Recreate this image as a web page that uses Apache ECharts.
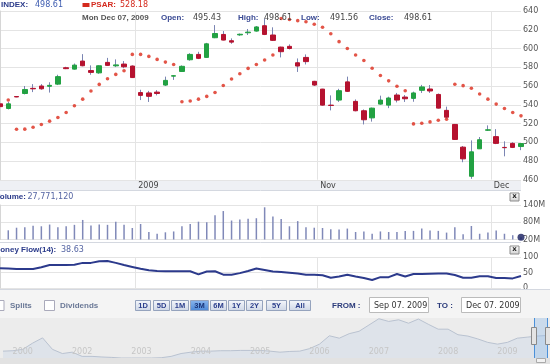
<!DOCTYPE html>
<html><head><meta charset="utf-8">
<script src="https://cdn.jsdelivr.net/npm/echarts@6/dist/echarts.min.js"></script>
<style>html,body{margin:0;padding:0;background:#fff;overflow:hidden}#c{width:550px;height:364px}</style>
</head><body><div id="c"></div>
<script>
const categories = ['2009-09-08','2009-09-09','2009-09-10','2009-09-11','2009-09-14','2009-09-15','2009-09-16','2009-09-17','2009-09-18','2009-09-21','2009-09-22','2009-09-23','2009-09-24','2009-09-25','2009-09-28','2009-09-29','2009-09-30',
'2009-10-01','2009-10-02','2009-10-05','2009-10-06','2009-10-07','2009-10-08','2009-10-09','2009-10-12','2009-10-13','2009-10-14','2009-10-15','2009-10-16','2009-10-19','2009-10-20','2009-10-21','2009-10-22','2009-10-23','2009-10-26','2009-10-27','2009-10-28','2009-10-29','2009-10-30',
'2009-11-02','2009-11-03','2009-11-04','2009-11-05','2009-11-06','2009-11-09','2009-11-10','2009-11-11','2009-11-12','2009-11-13','2009-11-16','2009-11-17','2009-11-18','2009-11-19','2009-11-20','2009-11-23','2009-11-24','2009-11-25','2009-11-27','2009-11-30',
'2009-12-01','2009-12-02','2009-12-03','2009-12-04','2009-12-07'];
const openV  = [541,536,548.8,552,557.5,560,559.7,562,579.5,578,586.6,576.5,574,585.2,581.5,583.4,581.3,553,552.6,553.5,561,570.5,575.5,588,593.7,590.5,611.5,615,608.3,614.5,616.8,618.6,624.3,614.4,601.5,602.3,584.8,590.5,565,556.7,539.6,545,564.4,543.6,533.6,526,540.7,539.6,550.4,548.2,546.8,555.4,556.8,551,534,519,494.8,463.7,493,512.8,506,494.5,498.8,495.43];
const highV  = [543,543,549,560,562,562,564,572,580.5,584,594,582,582,590,588.4,586.6,582,556,554.8,555.6,570,571.5,582,595,596.5,606,625,618.6,610.8,616,620.8,624,632,622.6,602,604.4,589.4,593.7,565.5,557,550,557,570,545.7,535,537,549.7,548.6,552.6,550.4,554,561.2,561,552,538,519.5,496,502,505.6,518,514,501,500,498.61];
const lowV   = [537,535,548,551,553.5,556,553,561,578,577.5,581,572,573,581.5,580.2,579,568.5,545,543,550,560,566.5,575,587,588.7,590,611,608.7,605,613.5,614.4,618,614.3,608,590.5,599,575,583,560,539,534,543,553.6,533,519,522,540,536.4,542.5,543,543.2,552.6,552.6,536,525.3,502.5,478.7,461,493,512,498,485,493.8,491.56];
const closeV = [538,541,548.3,556.3,557,557,560.7,570,578.5,582.3,581.6,574.5,581.6,582,582.5,580.5,569,550,549,552,566,571,581,593.7,589.5,605,616,609,606.8,615.2,617.5,623,615,608.7,596.6,600,581.3,586,561,539.6,539.2,555,554.3,533.6,524,536.4,545,547.2,545,546.4,552.6,559,554.7,536.4,526.7,503,482.3,489.8,502.7,513.3,498.8,494.2,494.5,498.61];
const psar   = ['-',545,513.8,514,516,519,522.5,526.4,531.8,539,546,554.6,561.7,567.7,572.4,576.3,593.7,593.7,591.6,588.4,585.5,583,543.2,544,546,548.9,553,560.6,567.4,573,578.8,583,587.7,593,632,631,629.7,628.6,625.8,622.6,615.8,607.3,600,593,587.2,579,571.2,565.5,559.7,555,519.6,520.3,521.7,523.5,524.6,561.9,560.4,557.6,551.5,546,540.7,536,531.8,528.18];
const volumeM = ['-',52,61,63,68,66,72,63,66,71,88,69,72,71,82,71,60,74,46,40,45,48,66,74,82,80,104,119,86,90,92,94,132,100,91,66,84,63,61,60,56,55,58,46,48,40,48,46,46,50,50,58,51,50,44,63,38,67,40,44,51,40,35,27.77];
const moneyFlow = [64,63,61,61,61,67,74,74,74,75,81,81,86,87,81,74,68,62,57,55,54,54,54,54,44,53,54,43,43,48,55,63,58,53,52,49.5,47,43,43,41,33,37,43,37,32,26,35,35,45,37,45,45,46,47,47,42,33,33,38,38,32,32,31,38.63];
const priceAxis = {min:460, max:640, step:20};
const volumeTicks = [20,80,140];
const moneyTicks = {min:0, max:100, step:50};
const monthLinePos = [16.35, 38.35, 59.35];
const monthLabels = ['2009','Nov','Dec'];
const navValues = [12.3,12.7,14,20,25,14,10,11.3,7.3,7.3,6.7,6.3,5.7,5.7,5.7,5.7,6,7.3,10,11.3,12.3,12.3,12.7,12.7,13,13,13,12.3,11.3,12,12.3,14.7,19,27,24.7,29,31.3,37.3,43.3,40.7,42.3,39,43,38,33.3,33.3,28,26.7,24,20.7,19,20.7,24.7,25.7,26.7,27.3];
const navLabels = navValues.map(()=> '');
const navYears = {2:'2000',8:'2002',14:'2003',20:'2004',26:'2005',32:'2006',38:'2007',45:'2008',51:'2009'};
Object.keys(navYears).forEach(k=>{navLabels[+k]=navYears[k];});

const UP='#22a142', DOWN='#b5122f', WICK='#7b85b3';
const wickData = openV.map((o,i)=>[o, closeV[i], lowV[i], highV[i]]);
const bodyData = openV.map((o,i)=>[o, closeV[i], Math.min(o,closeV[i]), Math.max(o,closeV[i])]);
const lastVolDot = volumeM.map((v,i)=> i===volumeM.length-1 ? v : '-');

const LB='"Liberation Sans"', DJ='"DejaVu Sans"';
function T(text,x,y,o){return {type:'text',x:x,y:y,z:100,silent:true,style:Object.assign({text:text,fill:'#444',font:'8px '+DJ,textVerticalAlign:'middle',verticalAlign:'middle',textAlign:'left'},o||{})};}
function R(x,y,w,h,st,z){return {type:'rect',z:(z==null?50:z),silent:true,shape:{x:x,y:y,width:w,height:h},style:st};}
function L(x1,y1,x2,y2,c,z){return {type:'line',z:(z==null?60:z),silent:true,shape:{x1:x1,y1:y1,x2:x2,y2:y2},style:{stroke:c,lineWidth:1}};}
const btnGrad={type:'linear',x:0,y:0,x2:0,y2:1,colorStops:[{offset:0,color:'#f6f8fc'},{offset:1,color:'#cdd6e6'}]};
const selGrad={type:'linear',x:0,y:0,x2:0,y2:1,colorStops:[{offset:0,color:'#8ab6ee'},{offset:1,color:'#4a86d6'}]};
const xGrad={type:'linear',x:0,y:0,x2:0,y2:1,colorStops:[{offset:0,color:'#ffffff'},{offset:1,color:'#d2d2d2'}]};

const graphics=[];
graphics.push(R(0,180,521,10,{fill:'#eef0f4'},-1));
graphics.push(R(0,290,550,28,{fill:'#f4f4f4'},-1));
graphics.push(R(0,318,550,46,{fill:'#ececec'},-1));
graphics.push(R(0,358,550,6,{fill:'#e2e2e2'},5));
graphics.push(L(0,190.5,521,190.5,'#d4d8e0',5));
graphics.push(L(0,242.5,521,242.5,'#d4d8e0',5));
graphics.push(L(0,289.5,550,289.5,'#d4d8e0',5));
graphics.push(T('INDEX:',1,5,{font:'bold 8px '+LB,fill:'#2a3a8a'}));
graphics.push(T('498.61',35,5,{fill:'#3d5cb0'}));
graphics.push(R(82.5,3,7,4,{fill:'#d42a1e'},100));
graphics.push(T('PSAR:',91,5,{font:'bold 8px '+LB,fill:'#d42a1e'}));
graphics.push(T('528.18',120,5,{fill:'#d42a1e'}));
graphics.push(T('Mon Dec 07, 2009',82,18,{font:'bold 8px '+LB,fill:'#555'}));
[['Open:',161,'495.43',193],['High:',238,'498.61',264],['Low:',301,'491.56',330],['Close:',369,'498.61',404]].forEach(a=>{
  graphics.push(T(a[0],a[1],18,{font:'bold 8px '+LB,fill:'#3a4a94'}));
  graphics.push(T(a[2],a[3],18,{fill:'#444'}));
});
graphics.push(T('Volume:',-5,197,{font:'bold 8px '+LB,fill:'#2a3a8a'}));
graphics.push(T('27,771,120',27.5,197,{fill:'#5565a3'}));
graphics.push(T('Money Flow(14):',-6.5,249.5,{font:'bold 8px '+LB,fill:'#2a3a8a'}));
graphics.push(T('38.63',61,249.5,{fill:'#5565a3'}));
[193,246].forEach(y=>{
  graphics.push(R(510,y,9,8,{fill:xGrad,stroke:'#8c8c8c',lineWidth:1},100));
  graphics.push(T('x',514.5,y+3.6,{font:'bold 7px '+DJ,fill:'#222',textAlign:'center'}));
});
graphics.push(R(-6,300.5,10,10,{fill:'#fff',stroke:'#aab',lineWidth:1},100));
graphics.push(T('Splits',10,305.5,{font:'bold 8px '+LB,fill:'#6a7896'}));
graphics.push(R(44.5,300.5,10,10,{fill:'#fff',stroke:'#aab',lineWidth:1},100));
graphics.push(T('Dividends',60,305.5,{font:'bold 8px '+LB,fill:'#6a7896'}));
const btns=[['1D',135,15],['5D',153,16],['1M',171,17],['3M',190,18],['6M',210,16],['1Y',228,16],['2Y',246,16],['5Y',266,20],['All',289,21]];
btns.forEach(b=>{
  const sel=b[0]==='3M';
  graphics.push(R(b[1]+0.5,300.5,b[2],10,{fill:sel?selGrad:btnGrad,stroke:'#95a3bd',lineWidth:1},100));
  graphics.push(T(b[0],b[1]+0.5+b[2]/2,305.7,{font:'bold 7.5px '+LB,fill:sel?'#1a3478':'#2c3f8c',textAlign:'center'}));
});
graphics.push(T('FROM :',332,305.5,{font:'bold 8px '+LB,fill:'#2a3a7a'}));
graphics.push(R(369.5,297.5,59,15,{fill:'#fff',stroke:'#bbb',lineWidth:1},100));
graphics.push(T('Sep 07. 2009',374,305.5,{fill:'#333'}));
graphics.push(T('TO :',437,305.5,{font:'bold 8px '+LB,fill:'#2a3a7a'}));
graphics.push(R(461.5,297.5,59,15,{fill:'#fff',stroke:'#bbb',lineWidth:1},100));
graphics.push(T('Dec 07. 2009',466,305.5,{fill:'#333'}));
graphics.push(R(534,318,14,40,{fill:'rgba(140,185,235,0.35)'},90));
graphics.push(L(534.5,318,534.5,358,'#4a90d9',95));
graphics.push(L(547.5,318,547.5,358,'#4a90d9',95));
graphics.push(R(531.5,327.5,5,17,{fill:'#e4e4e4',stroke:'#8a8a8a',lineWidth:1},96));
graphics.push(R(545.5,327.5,5,17,{fill:'#e4e4e4',stroke:'#8a8a8a',lineWidth:1},96));
graphics.push(R(536.5,358.5,9,4,{fill:'#f2f2f2',stroke:'#aaa',lineWidth:1},96));

function monthFmt(v){for(let i=0;i<monthLinePos.length;i++){if(Math.abs(v-monthLinePos[i])<0.01)return monthLabels[i];}return '';}
const gridLine={show:true,lineStyle:{color:'#e4e4e4',width:1}};
const axLab={color:'#555',fontSize:8,fontFamily:'DejaVu Sans',margin:2};
const hiddenCat=(g)=>({type:'category',gridIndex:g,data:categories,boundaryGap:false,show:false});
const monthAxis=(g,labels)=>({type:'value',gridIndex:g,min:0,max:categories.length-1,position:'bottom',
  axisLine:{show:false},axisTick:{show:false,customValues:monthLinePos},
  axisLabel:labels?{show:true,customValues:monthLinePos,formatter:monthFmt,align:'left',padding:[0,0,0,3],margin:2,color:'#444',fontSize:8,fontFamily:'DejaVu Sans'}:{show:false},
  splitLine:gridLine});

const chart=echarts.init(document.getElementById('c'),null,{renderer:'canvas'});
chart.setOption({
  animation:false,
  backgroundColor:'#ffffff',
  grid:[
    {left:-2,right:29,top:11,height:168.75},
    {left:-2,right:29,top:205,height:34.5},
    {left:-2,right:29,top:257,height:31},
    {left:0,right:0,top:318,height:46}
  ],
  xAxis:[
    hiddenCat(0), monthAxis(0,true),
    hiddenCat(1), monthAxis(1,false),
    hiddenCat(2), monthAxis(2,false),
    {type:'category',gridIndex:3,data:navLabels,boundaryGap:false,z:10,axisLine:{show:false},axisTick:{show:false},
     axisLabel:{inside:true,interval:0,margin:8,color:'#c6c6c6',fontSize:8,fontFamily:'DejaVu Sans'},splitLine:{show:false}}
  ],
  yAxis:[
    {type:'value',gridIndex:0,position:'right',min:priceAxis.min,max:priceAxis.max,interval:priceAxis.step,
     axisLine:{show:true,lineStyle:{color:'#d6d6d6'}},axisTick:{show:false},axisLabel:axLab,splitLine:gridLine},
    {type:'value',gridIndex:1,position:'right',min:volumeTicks[0],max:volumeTicks[volumeTicks.length-1],
     axisLine:{show:true,lineStyle:{color:'#d6d6d6'}},axisTick:{show:false,customValues:volumeTicks},
     axisLabel:Object.assign({customValues:volumeTicks,formatter:'{value}M'},axLab),splitLine:gridLine},
    {type:'value',gridIndex:2,position:'right',min:moneyTicks.min,max:moneyTicks.max,interval:moneyTicks.step,
     axisLine:{show:true,lineStyle:{color:'#d6d6d6'}},axisTick:{show:false},axisLabel:axLab,splitLine:gridLine},
    {type:'value',gridIndex:3,min:0,max:44,show:false}
  ],
  series:[
    {type:'candlestick',xAxisIndex:0,yAxisIndex:0,data:wickData,barWidth:1,z:2,silent:true,
     itemStyle:{color:WICK,color0:WICK,borderColor:WICK,borderColor0:WICK,borderWidth:1}},
    {type:'candlestick',xAxisIndex:0,yAxisIndex:0,data:bodyData,barWidth:5,z:3,
     itemStyle:{color:UP,color0:DOWN,borderColor:UP,borderColor0:DOWN,borderWidth:1}},
    {type:'scatter',xAxisIndex:0,yAxisIndex:0,data:psar,symbol:'circle',symbolSize:3.6,z:4,itemStyle:{color:'#dc2a1a'}},
    {type:'bar',xAxisIndex:2,yAxisIndex:1,data:volumeM,barWidth:1.5,itemStyle:{color:'#8089b8'}},
    {type:'scatter',xAxisIndex:2,yAxisIndex:1,data:lastVolDot,symbolSize:7,z:5,clip:false,itemStyle:{color:'#141c5c'}},
    {type:'line',xAxisIndex:4,yAxisIndex:2,data:moneyFlow,showSymbol:false,lineStyle:{color:'#2c3a8c',width:2}},
    {type:'line',xAxisIndex:6,yAxisIndex:3,data:navValues,showSymbol:false,z:1,lineStyle:{color:'#b9c2d0',width:1},areaStyle:{color:'#dee3ea',opacity:1}}
  ],
  graphic:graphics
});
</script></body></html>
